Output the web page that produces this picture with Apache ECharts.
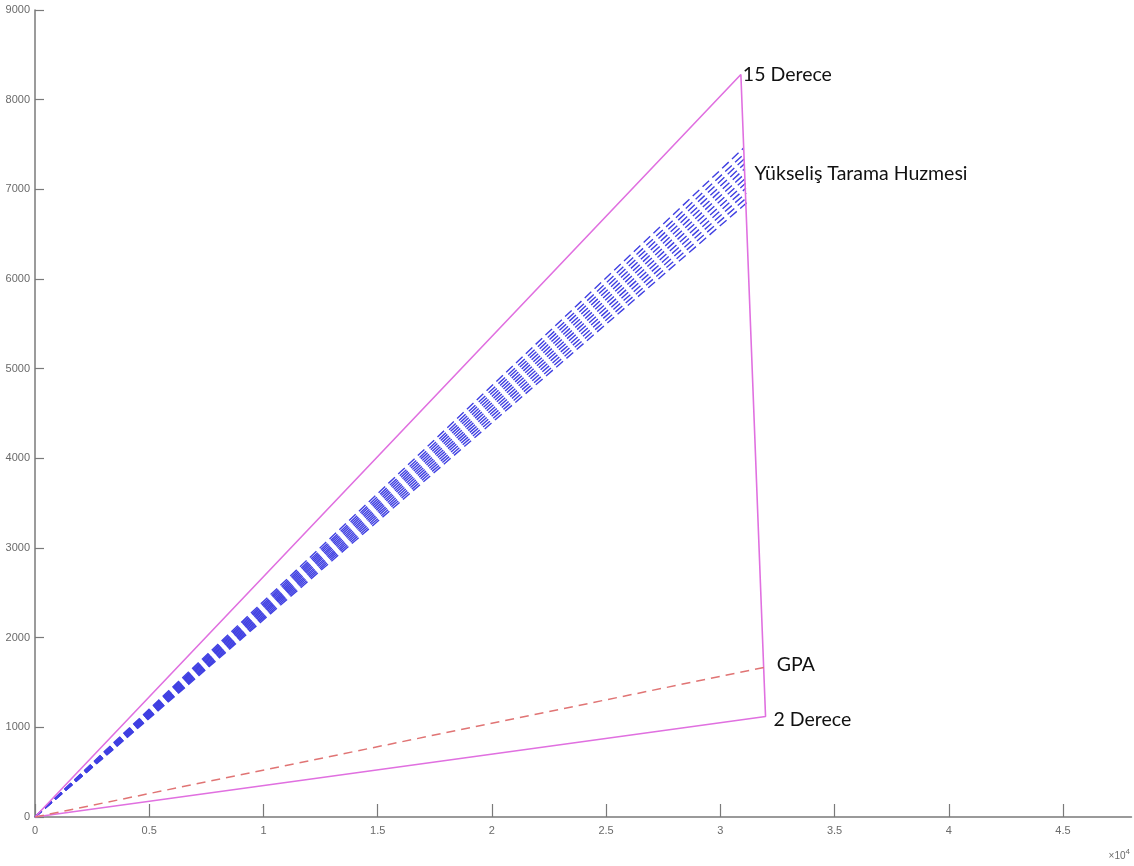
<!DOCTYPE html>
<html>
<head>
<meta charset="utf-8">
<style>
  html, body { margin: 0; padding: 0; background: #fff; }
  #chart { width: 1134px; height: 866px; }
</style>
<script src="https://cdn.jsdelivr.net/npm/echarts@6/dist/echarts.min.js"></script>
</head>
<body>
<div id="chart"></div>
<script>
// Elevation coverage: range (m) on x, height (m) on y
const xTicks = [0, 5000, 10000, 15000, 20000, 25000, 30000, 35000, 40000, 45000];
const yTicks = [0, 1000, 2000, 3000, 4000, 5000, 6000, 7000, 8000, 9000];

// Coverage boundary: origin -> 15° limit -> 2° limit -> origin
const coverageX = [0, 30900, 31980, 0];
const coverageY = [0, 8280, 1120, 0];

// Glide path (GPA) from the touchdown point
const gpaX = [0, 31950];
const gpaY = [0, 1670];

// Tips of the elevation scan beam rays (each ray starts at the origin)
const beamTipX = [31156, 31144, 31132, 31119, 31107, 31095, 31082, 31070, 31057, 31044, 31032, 31019];
const beamTipY = [6850, 6904, 6959, 7013, 7067, 7122, 7176, 7230, 7284, 7339, 7393, 7460];

const labels = {
  top: '15 Derece',
  beam: 'Yükseliş Tarama Huzmesi',
  gpa: 'GPA',
  bottom: '2 Derece'
};

const textFont = 'Lato, "Open Sans", sans-serif';
const noteStyle = {
  color: '#111', fontSize: 19.5, fontFamily: textFont,
  align: 'left', verticalAlign: 'middle'
};

function note(text, pos) {
  return { show: true, position: pos, formatter: text, ...noteStyle };
}

function pairs(xs, ys) { return xs.map((x, i) => [x, ys[i]]); }

const series = [];

// Beam rays, dashed, all starting from the origin so their dashes line up
beamTipX.forEach((tx, i) => {
  const isTop = i === beamTipX.length - 1;
  series.push({
    type: 'line',
    data: [
      [0, 0],
      isTop ? { value: [tx, beamTipY[i]], label: note(labels.beam, [11, 26]) } : [tx, beamTipY[i]]
    ],
    silent: true,
    itemStyle: { color: '#4040e2' },
    lineStyle: { color: '#4040e2', width: 1.4, type: [9, 4.5] },
    z: 2
  });
});

// Coverage boundary
const cov = pairs(coverageX, coverageY).map((p, i) => {
  if (i === 1) return { value: p, label: note(labels.top, [2, 0]) };
  if (i === 2) return { value: p, label: note(labels.bottom, [8, 3]) };
  return p;
});
series.push({
  type: 'line',
  data: cov,
  silent: true,
  itemStyle: { color: '#e070e0' },
  lineStyle: { color: '#e070e0', width: 1.6 },
  z: 3
});

// Glide path
series.push({
  type: 'line',
  data: [[gpaX[0], gpaY[0]], { value: [gpaX[1], gpaY[1]], label: note(labels.gpa, [12, -3]) }],
  silent: true,
  itemStyle: { color: '#e07474' },
  lineStyle: { color: '#e07474', width: 1.5, type: [9, 6] },
  z: 3
});

// Labels on endpoints need a (practically invisible) symbol to anchor to
series.forEach(s => {
  s.symbol = 'circle';
  s.symbolSize = 0.01;
  s.showSymbol = true;
  s.showAllSymbol = true;
});

const axisGray = '#7a7a7a';
const chart = echarts.init(document.getElementById('chart'), null, { renderer: 'canvas' });
chart.setOption({
  animation: false,
  backgroundColor: '#ffffff',
  grid: { left: 35, right: 2.5, top: 10, bottom: 49, containLabel: false },
  xAxis: {
    type: 'value',
    min: 0,
    max: 48000,
    interval: 5000,
    splitLine: { show: false },
    axisLine: { show: true, onZero: false, lineStyle: { color: axisGray, width: 1.5 } },
    axisTick: { show: true, inside: true, length: 13, lineStyle: { color: axisGray, width: 1.2 } },
    axisLabel: {
      color: '#6a6a6a', fontSize: 11, fontFamily: '"Liberation Sans", Arial, sans-serif',
      margin: 8, showMaxLabel: false,
      formatter: v => xTicks.includes(v) ? String(v / 10000) : ''
    }
  },
  yAxis: {
    type: 'value',
    min: 0,
    max: 9000,
    interval: 1000,
    splitLine: { show: false },
    axisLine: { show: true, onZero: false, lineStyle: { color: axisGray, width: 1.5 } },
    axisTick: { show: true, inside: true, length: 9, lineStyle: { color: axisGray, width: 1.2 } },
    axisLabel: {
      color: '#6a6a6a', fontSize: 11, fontFamily: '"Liberation Sans", Arial, sans-serif',
      margin: 5,
      formatter: v => yTicks.includes(v) ? String(v) : ''
    }
  },
  graphic: [{
    type: 'text',
    right: 4,
    bottom: 5,
    style: {
      text: '×10{s|4}',
      fill: '#6a6a6a',
      font: '10px "Liberation Sans", Arial, sans-serif',
      rich: { s: { fontSize: 8, verticalAlign: 'top', padding: [0, 0, 8, 0] } }
    }
  }],
  series: series
});
</script>
</body>
</html>
